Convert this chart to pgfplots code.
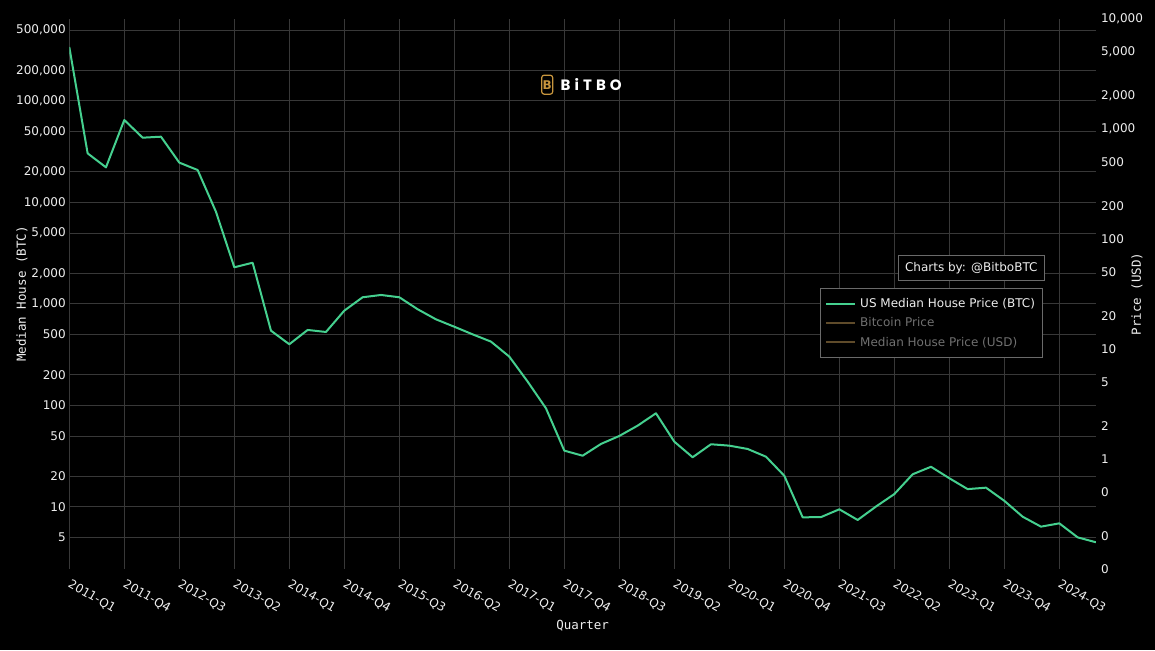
\documentclass[border=0pt]{standalone}
\usepackage{fontspec}
\setmainfont{DejaVu Sans}
\newfontfamily\monof{DejaVu Sans Mono}
\newfontfamily\logof{Poppins}[LetterSpace=27]
\usepackage{pgfplots}
\pgfplotsset{compat=1.18}
\definecolor{linegreen}{HTML}{45D08F}
\definecolor{gridc}{HTML}{383838}
\definecolor{txt}{HTML}{EEEEEE}
\definecolor{legdim}{HTML}{707070}
\definecolor{legline}{HTML}{5F4B2A}
\definecolor{boxc}{HTML}{6A6A6A}
\definecolor{gold}{HTML}{C8963E}
\pgfplotstableread{
q v
0 340000
1 30500
2 22200
3 65000
4 43500
5 44500
6 24700
7 20900
8 8100
9 2300
10 2550
11 546
12 401
13 555
14 530
15 860
16 1165
17 1227
18 1165
19 888
20 706
21 597
22 502
23 426
24 303
25 172
26 93.8
27 35.9
28 32.0
29 41.8
30 50.1
31 63.3
32 83.8
33 44.0
34 30.9
35 41.5
36 40.2
37 37.3
38 31.3
39 20.3
40 7.91
41 7.95
42 9.49
43 7.45
44 10.1
45 13.4
46 21.0
47 24.9
48 19.2
49 15.0
50 15.5
51 11.5
52 8.02
53 6.40
54 6.90
55 5.02
56 4.49
}\btcdata
\begin{document}
\begin{tikzpicture}[x=1pt,y=1pt]
\fill[black] (0,0) rectangle (1155,650);
\useasboundingbox (0,0) rectangle (1155,650);
\begin{axis}[
  at={(69.3pt,81pt)}, anchor=south west,
  scale only axis, width=1026.7pt, height=550pt,
  ymode=log, xmin=0, xmax=56, ymin=2.449, ymax=642600,
  axis line style={draw=none}, major tick length=0pt, minor tick length=0pt,
  minor y tick num=0,
  xtick={0,3,...,54},
  xticklabels={2011-Q1,2011-Q4,2012-Q3,2013-Q2,2014-Q1,2014-Q4,2015-Q3,2016-Q2,2017-Q1,2017-Q4,2018-Q3,2019-Q2,2020-Q1,2020-Q4,2021-Q3,2022-Q2,2023-Q1,2023-Q4,2024-Q3},
  ytick={5,10,20,50,100,200,500,1000,2000,5000,10000,20000,50000,100000,200000,500000},
  yticklabels={5,10,20,50,100,200,500,{1,000},{2,000},{5,000},{10,000},{20,000},{50,000},{100,000},{200,000},{500,000}},
  grid=major, major grid style={draw=gridc, line width=1pt},
  tick label style={font=\fontsize{12}{14}\selectfont, text=txt},
  xticklabel style={xshift=2.5pt, yshift=-9.5pt, rotate=-30, anchor=north west, inner sep=0pt},
  yticklabel style={anchor=east},
  every axis y label/.style={at={(axis description cs:-0.0461,0.5)}, rotate=90, anchor=center},
  every axis x label/.style={at={(axis description cs:0.5,-0.103)}, anchor=center},
  label style={font=\monof\fontsize{12.5}{14}\selectfont, text=txt},
  ylabel={Median House (BTC)},
  xlabel={Quarter},
  legend style={at={(axis description cs:0.7312,0.5104)}, anchor=north west, draw=boxc, fill=black, text=txt, font=\fontsize{12}{14}\selectfont, inner xsep=5pt, inner ysep=7.8pt, row sep=4.7pt, cells={anchor=west}},
  legend image code/.code={\draw[#1] (0pt,0pt) -- (29pt,0pt); \path (31pt,0pt);},
]
\addplot[linegreen, line width=2pt, line join=round, mark=none] table[x=q, y=v] {\btcdata};
\addlegendentry{US Median House Price (BTC)}
\addlegendimage{legline, line width=1.8pt}
\addlegendentry{\textcolor{legdim}{Bitcoin Price}}
\addlegendimage{legline, line width=1.8pt}
\addlegendentry{\textcolor{legdim}{Median House Price (USD)}}
\end{axis}
\begin{axis}[
  at={(69.3pt,81pt)}, anchor=south west,
  scale only axis, width=1026.7pt, height=550pt,
  ymode=log, xmin=0, xmax=56, ymin=0.1, ymax=10000,
  axis x line=none, axis y line*=right,
  axis line style={draw=none}, major tick length=0pt, minor tick length=0pt,
  minor y tick num=0,
  ytick={0.1,0.2,0.5,1,2,5,10,20,50,100,200,500,1000,2000,5000,10000},
  yticklabels={0,0,0,1,2,5,10,20,50,100,200,500,{1,000},{2,000},{5,000},{10,000}},
  tick label style={font=\fontsize{12}{14}\selectfont, text=txt},
  yticklabel style={anchor=west, xshift=1.5pt},
  every axis y label/.style={at={(axis description cs:1.040,0.5)}, rotate=90, anchor=center},
  label style={font=\monof\fontsize{12.5}{14}\selectfont, text=txt},
  ylabel={Price (USD)},
]
\end{axis}
\node[draw=boxc, fill=black, text=txt, font=\fontsize{12}{14}\selectfont, minimum width=146pt, minimum height=24.3pt, inner sep=0pt] at (971.3,382.2) {Charts by: @BitboBTC};
\node[draw=gold, line width=1.2pt, rounded corners=2.5pt, minimum width=11pt, minimum height=19pt, inner sep=0pt, text=gold, font=\bfseries\fontsize{12}{12}\selectfont] at (547.2,565.3) {B};
\node[anchor=west, text=white, font=\logof\bfseries\fontsize{15}{15}\selectfont, inner sep=0pt] at (560.5,565.3) {BiTBO};
\end{tikzpicture}
\end{document}
